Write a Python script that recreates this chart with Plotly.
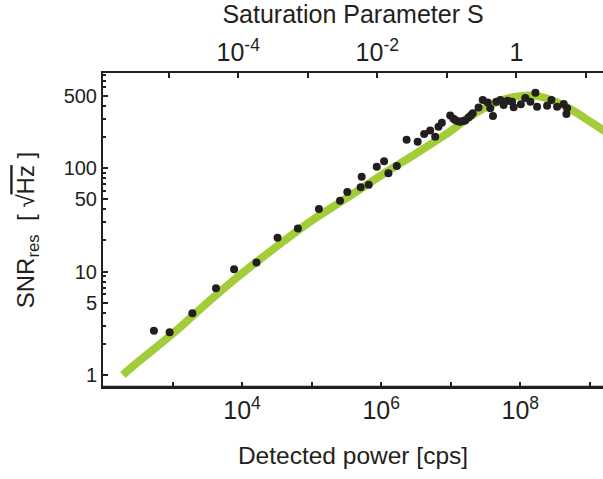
import plotly.graph_objects as go

# ---- data ----
# fitted curve: log10(detected power [cps]) and SNR
curve_power_log = [2.285, 2.5, 3.0, 3.5, 4.0, 4.5, 5.0, 5.5, 6.0, 6.5, 7.0, 7.25, 7.5, 7.75, 8.0, 8.25, 8.5, 8.75, 9.0, 9.25]
curve_snr = [1.0, 1.33, 2.5, 5.0, 9.6, 17.5, 31, 51, 85, 138, 228, 305, 384, 455, 495, 495, 440, 362, 282, 220]

# measured points: log10(power) and SNR
meas_power_log = [2.732, 2.958, 3.285, 3.625, 3.885, 4.207, 4.510, 4.803, 5.105, 5.408, 5.513, 5.706, 5.821,
                  5.720, 5.937, 6.042, 6.104, 6.225, 6.366, 6.525, 6.618, 6.705, 6.777, 6.824, 6.873,
                  6.993, 7.040, 7.065, 7.100, 7.137, 7.175, 7.209, 7.256, 7.290, 7.317, 7.401, 7.461, 7.533,
                  7.569, 7.608, 7.656, 7.713, 7.761, 7.818, 7.882, 7.905, 8.009, 8.073, 8.146, 8.218,
                  8.242, 8.386, 8.448, 8.530, 8.625, 8.674, 8.664]
meas_snr = [2.68, 2.59, 3.95, 6.88, 10.5, 12.2, 21.2, 26.1, 40.2, 48.3, 58.6, 65.1, 69,
            82.4, 103, 116, 88.9, 104.5, 188, 179.5, 213, 230, 200.6, 250.6, 274,
            321, 300, 291, 283, 280, 284, 288, 307.6, 322, 338, 384, 454, 430,
            377.5, 318, 437, 454, 406, 447, 437, 386, 413, 475, 437, 534,
            391, 400, 454, 391, 415, 377, 332]

x_tick_exp = [3, 4, 5, 6, 7, 8, 9]
x_tick_labels = ["", "10<sup>4</sup>", "", "10<sup>6</sup>", "", "10<sup>8</sup>", ""]
s_tick_exp = [-5, -4, -3, -2, -1, 0, 1]
s_tick_labels = ["", "10<sup>-4</sup>", "", "10<sup>-2</sup>", "", "1", ""]
y_major = [1, 5, 10, 50, 100, 500]
y_major_labels = ["1", "5", "10", "50", "100", "500"]
y_minor = [2, 3, 4, 6, 7, 8, 9, 20, 30, 40, 60, 70, 80, 90, 200, 300, 400, 600, 700, 800]
s_offset_log = 7.944  # log10(power) at which S = 1

x_range = [2.0, 9.19]

INK = "#231f20"
GREEN = "#a3cc39"
FONT = "Liberation Sans, Arial, sans-serif"

fig = go.Figure()
fig.add_trace(go.Scatter(
    x=[10 ** v for v in curve_power_log], y=curve_snr, mode="lines",
    line=dict(color=GREEN, width=8, shape="spline", smoothing=1.0),
    showlegend=False, hoverinfo="skip"))
fig.add_trace(go.Scatter(
    x=[10 ** v for v in meas_power_log], y=meas_snr, mode="markers",
    marker=dict(color=INK, size=8, line=dict(width=0)),
    showlegend=False))
# invisible trace to attach the top axis
fig.add_trace(go.Scatter(x=[10 ** -3], y=[None], xaxis="x2", mode="markers",
                         showlegend=False, hoverinfo="skip"))

fig.update_layout(
    width=603, height=479,
    margin=dict(l=103, r=0, t=73, b=92, autoexpand=False),
    paper_bgcolor="white", plot_bgcolor="white",
    font=dict(family=FONT, color=INK),
    xaxis=dict(
        type="log", range=x_range, automargin=False, side="bottom", anchor="y", mirror=False,
        layer="above traces",
        tickvals=[10 ** e for e in x_tick_exp], ticktext=x_tick_labels,
        ticks="inside", ticklen=5, tickwidth=2, tickcolor=INK,
        tickfont=dict(size=25, color=INK),
        showline=True, linewidth=2, linecolor=INK, showgrid=False, zeroline=False,
        title=dict(text="Detected power [cps]", font=dict(size=24.5, color=INK), standoff=24),
    ),
    xaxis2=dict(
        type="log", overlaying="x", side="top", anchor="y", automargin=False,
        range=[x_range[0] - s_offset_log, x_range[1] - s_offset_log],
        tickvals=[10 ** e for e in s_tick_exp], ticktext=s_tick_labels,
        ticks="inside", ticklen=5, tickwidth=2, tickcolor=INK,
        tickfont=dict(size=25, color=INK),
        showline=True, linewidth=2, linecolor=INK, showgrid=False, zeroline=False,
        title=dict(text="Saturation Parameter S", font=dict(size=25, color=INK), standoff=8),
    ),
    yaxis=dict(
        type="log", range=[-0.116, 2.918], automargin=False,
        tickvals=y_major, ticktext=y_major_labels,
        ticks="inside", ticklen=5, tickwidth=2, tickcolor=INK,
        tickfont=dict(size=20, color=INK),
        minor=dict(tickvals=y_minor, ticks="inside", ticklen=3, tickwidth=1.5, tickcolor=INK),
        showline=True, linewidth=2, linecolor=INK, showgrid=False, zeroline=False,
        title=dict(text="SNR<sub>res</sub>  [ √<span style='text-decoration:overline'>Hz</span> ]",
                   font=dict(size=24, color=INK), standoff=22),
    ),
    shapes=[dict(type="line", xref="paper", yref="paper", x0=0, x1=1, y0=0, y1=0,
                 line=dict(color=INK, width=2.5), layer="above")],
)

fig.write_html("out.html", config={"displayModeBar": False},
               post_script="document.body.style.margin='0';document.body.style.padding='0';")
